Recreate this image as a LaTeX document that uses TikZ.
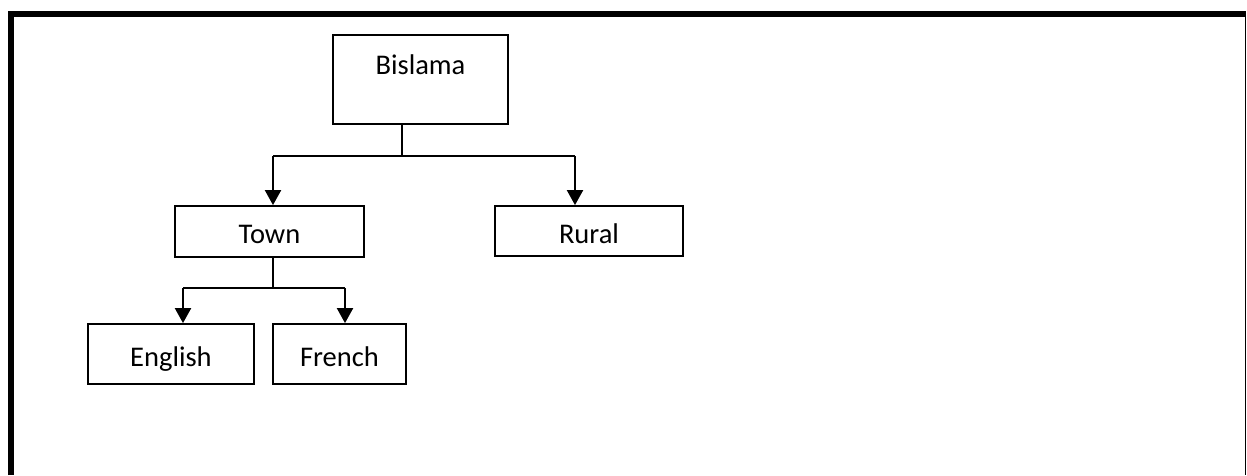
\documentclass[tikz,border=0pt]{standalone}
\usepackage{fontspec}
\setmainfont{Carlito}
\usetikzlibrary{arrows.meta}

\begin{document}
\begin{tikzpicture}[x=1pt, y=-1pt, box/.style={draw, rectangle, line width=1.8pt, inner sep=0pt, text height=27pt, text depth=3pt, font=\fontsize{28.5}{34}\selectfont}, arr/.style={line width=2pt, -{Triangle[width=16pt,length=15pt]}}]
\useasboundingbox (0,0) rectangle (1247,475);
% frame
\draw[line width=6pt] (11,475) -- (11,14) -- (1246,14);
\draw[line width=1.5pt] (1245.5,14) -- (1245.5,475);
% boxes
\node[box, minimum width=175pt, inner ysep=10pt, text height=29pt, text depth=40pt] (bislama) at (420.5,79.5) {Bislama};
\node[box, minimum width=189pt, minimum height=51pt] (town) at (269.5,231.5) {Town};
\node[box, minimum width=188pt, minimum height=50pt] (rural) at (589,231) {Rural};
\node[box, minimum width=166pt, minimum height=60pt] (english) at (171,354) {English};
\node[box, minimum width=133pt, minimum height=60pt] (french) at (339.5,354) {French};
% connectors
\coordinate (split1) at (402,156);
\coordinate (bar1l) at (273,156);
\coordinate (bar1r) at (575,156);
\draw[line width=2pt] (bislama.south -| split1) -- (split1);
\draw[line width=2pt] (bar1l) -- (bar1r);
\draw[arr] (bar1l) -- (bar1l |- town.north);
\draw[arr] (bar1r) -- (bar1r |- rural.north);
\coordinate (split2) at (273,288);
\coordinate (bar2l) at (183,288);
\coordinate (bar2r) at (345,288);
\draw[line width=2pt] (town.south -| split2) -- (split2);
\draw[line width=2pt] (bar2l) -- (bar2r);
\draw[arr] (bar2l) -- (bar2l |- english.north);
\draw[arr] (bar2r) -- (bar2r |- french.north);
\end{tikzpicture}
\end{document}
